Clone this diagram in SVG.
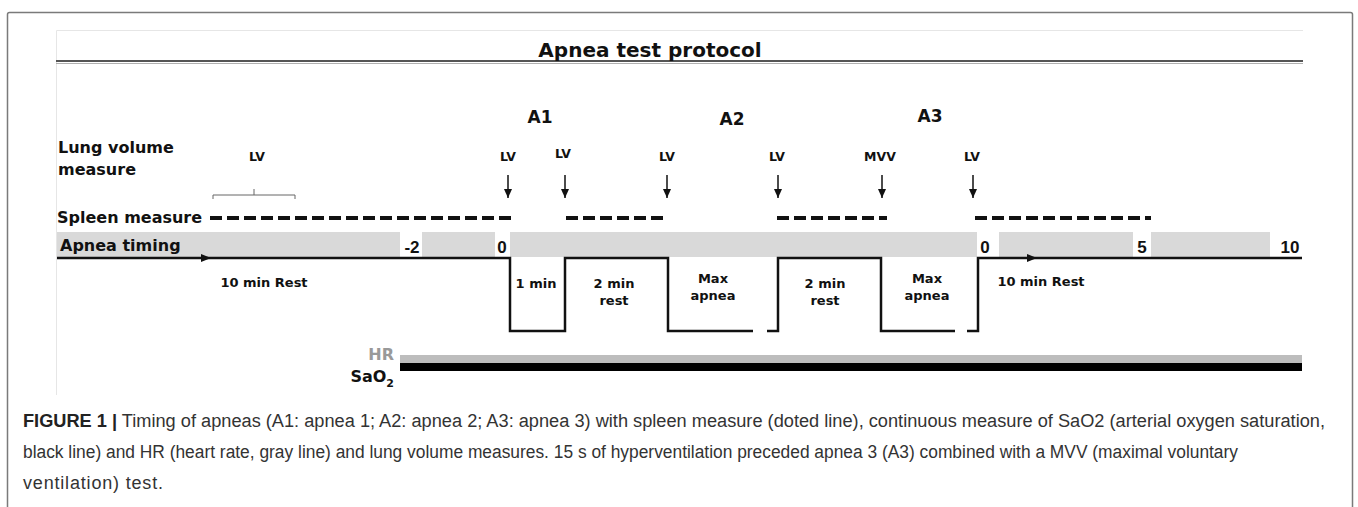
<svg xmlns="http://www.w3.org/2000/svg" width="1358" height="507" viewBox="0 0 1358 507">
<defs>
<style>
.b{font-family:"DejaVu Sans",Verdana,sans-serif;font-weight:bold;fill:#111}
.lbl{font-size:16px}
.sm{font-size:12.5px;text-anchor:middle}
.mid{font-size:13px;text-anchor:middle}
.ap{font-size:17px;text-anchor:middle}
.num{font-family:"Liberation Sans",Arial,sans-serif;font-weight:bold;font-size:17px;text-anchor:middle;fill:#111}
.dash{stroke:#111;stroke-width:4;stroke-dasharray:12 5;fill:none}
.band{fill:#d9d9d9}
.tl{stroke:#111;stroke-width:2.5;fill:none}
.lv{stroke:#111;stroke-width:1.5;marker-end:url(#ah)}
.cap{font-family:"Liberation Sans",Arial,sans-serif;font-size:18px;fill:#333}
</style>
<marker id="ah" markerWidth="9" markerHeight="8" refX="9" refY="4" orient="auto" markerUnits="userSpaceOnUse"><path d="M0,0 L9,4 L0,8 z" fill="#111"/></marker>
</defs>
<rect x="0" y="0" width="1358" height="507" fill="#fff"/>
<rect id="frame" x="7.5" y="12.5" width="1345" height="530" rx="2" fill="none" stroke="#7a7a7a" stroke-width="1.5"/>
<g id="panel">
<path d="M56.5,395 V30.5 H1303" fill="none" stroke="#e6e6e6" stroke-width="1"/>
<line x1="56" y1="61" x2="1303" y2="61" stroke="#555" stroke-width="2"/>
<line x1="56" y1="63.5" x2="1303" y2="63.5" stroke="#b0b0b0" stroke-width="1"/>
<text id="title" class="b" x="650" y="57" font-size="20" text-anchor="middle">Apnea test protocol</text>
</g>
<g id="apnea-labels">
<text class="b ap" x="540" y="123">A1</text>
<text class="b ap" x="732" y="125">A2</text>
<text class="b ap" x="930" y="122">A3</text>
</g>
<g id="lung-volume">
<text class="b lbl" x="58" y="153">Lung volume</text>
<text class="b lbl" x="58" y="175">measure</text>
<text class="b sm" x="257" y="161">LV</text>
<path d="M213,199 V195 H295 V199 M254,195 V189" fill="none" stroke="#666" stroke-width="1"/>
<text class="b sm" x="508" y="161">LV</text>
<text class="b sm" x="563" y="158">LV</text>
<text class="b sm" x="667" y="161">LV</text>
<text class="b sm" x="777" y="161">LV</text>
<text class="b sm" x="880" y="161">MVV</text>
<text class="b sm" x="972" y="161">LV</text>
</g>
<g id="connectors">
<line class="lv" x1="508" y1="175" x2="508" y2="198"/>
<line class="lv" x1="565" y1="175" x2="565" y2="198"/>
<line class="lv" x1="667" y1="175" x2="667" y2="198"/>
<line class="lv" x1="778" y1="175" x2="778" y2="198"/>
<line class="lv" x1="882" y1="175" x2="882" y2="198"/>
<line class="lv" x1="973" y1="175" x2="973" y2="198"/>
</g>
<g id="spleen">
<text class="b lbl" x="57" y="223">Spleen measure</text>
<line class="dash" x1="210" y1="218" x2="512" y2="218"/>
<line class="dash" x1="566" y1="218" x2="668" y2="218"/>
<line class="dash" x1="777" y1="218" x2="887" y2="218"/>
<line class="dash" x1="975" y1="218" x2="1151" y2="218"/>
</g>
<g id="timing">
<rect class="band" x="57" y="232" width="343" height="25"/>
<rect class="band" x="422" y="232" width="73" height="25"/>
<rect class="band" x="510" y="232" width="467" height="25"/>
<rect class="band" x="999" y="232" width="134" height="25"/>
<rect class="band" x="1151" y="232" width="119" height="25"/>
<text class="b lbl" x="60" y="251">Apnea timing</text>
<text class="num" x="412" y="253">-2</text>
<text class="num" x="502" y="253">0</text>
<text class="num" x="985" y="253">0</text>
<text class="num" x="1142" y="253">5</text>
<text class="num" x="1290" y="253">10</text>
<path class="tl" d="M57,258 H510 V331 H565 V258 H668 V331 H753 M767,331 H778 V258 H881 V331 H955 M967,331 H978 V258 H1302"/>
<path d="M201,254 L211,258 L201,262 z" fill="#111"/>
<path d="M1027,254 L1037,258 L1027,262 z" fill="#111"/>
<text class="b mid" x="264" y="287">10 min Rest</text>
<text class="b mid" x="536" y="288">1 min</text>
<text class="b mid" x="614" y="288">2 min</text>
<text class="b mid" x="614" y="305">rest</text>
<text class="b mid" x="713" y="283">Max</text>
<text class="b mid" x="713" y="300">apnea</text>
<text class="b mid" x="825" y="288">2 min</text>
<text class="b mid" x="825" y="305">rest</text>
<text class="b mid" x="927" y="283">Max</text>
<text class="b mid" x="927" y="300">apnea</text>
<text class="b mid" x="1041" y="286">10 min Rest</text>
</g>
<g id="hr-sao2">
<rect x="400" y="355" width="902" height="8" fill="#bdbdbd"/>
<rect x="400" y="363" width="902" height="8" fill="#000"/>
<text class="b lbl" x="394" y="360" text-anchor="end" style="fill:#999">HR</text>
<text class="b lbl" x="394" y="382" text-anchor="end">SaO<tspan font-size="11" dy="5">2</tspan></text>
</g>
<g id="caption">
<text class="cap" x="23" y="427" textLength="1302" lengthAdjust="spacingAndGlyphs"><tspan font-weight="bold" fill="#222">FIGURE 1 |</tspan> Timing of apneas (A1: apnea 1; A2: apnea 2; A3: apnea 3) with spleen measure (doted line), continuous measure of SaO2 (arterial oxygen saturation,</text>
<text class="cap" x="23" y="458" textLength="1215" lengthAdjust="spacingAndGlyphs">black line) and HR (heart rate, gray line) and lung volume measures. 15 s of hyperventilation preceded apnea 3 (A3) combined with a MVV (maximal voluntary</text>
<text class="cap" x="23" y="489" textLength="140" lengthAdjust="spacing">ventilation) test.</text>
</g>
</svg>
